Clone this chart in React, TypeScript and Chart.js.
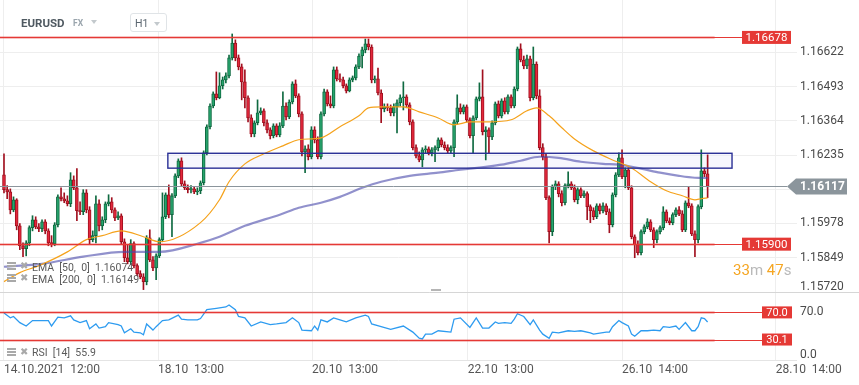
import React, { useEffect, useRef } from 'react';
import { Chart, registerables } from 'chart.js';

Chart.register(...registerables);

// ---------- data (prices in points of 0.00001) ----------
const PT = 0.00001;

const openPts = [
  116161,116105,116097,116029,116067,115969,115894,115883,115905,115962,
  115992,115965,115958,115984,115950,115905,115902,115973,116078,116071,
  116063,116052,116142,116112,116026,116022,116093,116029,115917,115932,
  116052,115969,115992,116052,116059,116029,115999,116007,115909,115849,
  115834,115902,115819,115789,115777,115759,115924,115841,115811,115856,
  115917,116003,116086,116011,116082,116157,116214,116127,116112,116105,
  116108,116097,116101,116131,116244,116342,116420,116466,116451,116496,
  116518,116533,116601,116657,116601,116567,116511,116451,116375,116315,
  116357,116394,116402,116357,116330,116308,116345,116311,116345,116420,
  116379,116435,116503,116458,116390,116247,116259,116229,116330,116293,
  116229,116390,116473,116428,116420,116556,116522,116518,116496,116477,
  116518,116526,116567,116608,116631,116654,116642,116518,116522,116469,
  116409,116417,116413,116394,116417,116432,116451,116454,116424,116360,
  116263,116232,116217,116255,116259,116244,116255,116263,116293,116274,
  116263,116251,116263,116360,116413,116398,116417,116368,116308,116375,
  116447,116454,116323,116330,116304,116357,116428,116383,116439,116398,
  116454,116420,116484,116635,116593,116571,116597,116451,116578,116458,
  116263,116229,116075,115947,116116,116127,116090,116056,116120,116127,
  116112,116067,116105,116082,116090,116041,116026,116003,116044,116026,
  116044,116022,115973,116086,116161,116225,116154,116180,116112,115928,
  115898,115868,115947,115965,115984,115954,115917,115947,115962,116022,
  115988,115981,116011,116029,116014,115954,116056,116044,115939,115917,
  116041,116176,116165
];
const highPts = [
  116240,116120,116108,116078,116071,115977,115905,115913,115969,116007,
  116003,115977,115992,115992,115958,115932,115981,116086,116112,116093,
  116082,116169,116157,116184,116059,116105,116105,116041,115950,116082,
  116067,116003,116059,116086,116075,116037,116022,116014,115920,115898,
  115917,115909,115826,115800,115789,115932,115954,115853,115864,115924,
  116093,116093,116123,116090,116165,116221,116225,116138,116123,116120,
  116116,116112,116138,116251,116349,116428,116473,116548,116545,116529,
  116545,116612,116691,116669,116612,116578,116556,116458,116387,116364,
  116443,116413,116409,116368,116338,116353,116353,116357,116473,116432,
  116443,116511,116518,116466,116398,116270,116274,116342,116342,116304,
  116398,116484,116481,116458,116567,116567,116541,116529,116503,116526,
  116533,116575,116616,116642,116672,116672,116650,116533,116563,116481,
  116428,116428,116424,116428,116443,116462,116511,116462,116432,116368,
  116274,116247,116263,116270,116266,116263,116270,116300,116300,116285,
  116274,116270,116368,116462,116428,116424,116424,116375,116383,116454,
  116507,116556,116342,116338,116364,116435,116439,116447,116451,116462,
  116462,116492,116642,116654,116608,116612,116608,116642,116586,116481,
  116278,116240,116082,116123,116138,116135,116101,116127,116172,116135,
  116123,116112,116112,116101,116097,116048,116037,116052,116052,116056,
  116052,116033,116093,116169,116244,116255,116187,116187,116120,115935,
  115913,115954,115973,115996,115992,115962,115954,115969,116041,116029,
  115999,116018,116037,116041,116026,116063,116116,116052,115950,116048,
  116255,116187,116236
];
const lowPts = [
  116093,116071,116014,116022,115954,115879,115853,115856,115894,115950,
  115958,115947,115947,115939,115894,115890,115894,115965,116063,116056,
  116044,116041,116105,115988,116011,116011,116018,115898,115909,115905,
  115950,115954,115981,116044,116018,115988,115992,115898,115834,115826,
  115823,115811,115781,115770,115729,115747,115834,115800,115766,115849,
  115909,115996,115999,115928,116075,116150,116120,116105,116093,116093,
  116090,116086,116090,116123,116236,116334,116413,116443,116447,116484,
  116507,116526,116593,116590,116556,116443,116413,116360,116304,116304,
  116349,116387,116345,116319,116296,116300,116304,116304,116338,116368,
  116372,116428,116451,116379,116232,116169,116217,116221,116281,116221,
  116221,116383,116420,116413,116413,116514,116511,116488,116469,116473,
  116511,116518,116560,116563,116620,116631,116507,116507,116462,116357,
  116398,116402,116383,116383,116319,116420,116405,116413,116349,116255,
  116225,116210,116191,116244,116236,116232,116210,116251,116266,116255,
  116244,116244,116229,116353,116390,116390,116360,116300,116244,116368,
  116439,116311,116217,116244,116293,116349,116375,116375,116390,116390,
  116413,116413,116477,116586,116560,116560,116439,116443,116447,116255,
  116217,116067,115905,115932,116105,116078,116044,116048,116112,116105,
  116059,116052,116075,116075,115992,115981,115992,115996,116014,116018,
  116011,115943,115965,116078,116154,116146,116112,116105,115920,115849,
  115860,115860,115939,115958,115947,115887,115905,115939,115954,115981,
  115973,115973,116003,116007,115947,115947,116037,115932,115853,115905,
  116033,116154,116075
];
const closePts = [
  116105,116097,116029,116067,115969,115894,115883,115905,115962,115992,
  115965,115958,115984,115950,115905,115902,115973,116078,116071,116063,
  116052,116142,116112,116026,116022,116093,116029,115917,115932,116052,
  115969,115992,116052,116059,116029,115999,116007,115909,115849,115834,
  115902,115819,115789,115777,115759,115924,115841,115811,115856,115917,
  116003,116086,116011,116082,116157,116214,116127,116112,116105,116108,
  116097,116101,116131,116244,116342,116420,116466,116451,116496,116518,
  116533,116601,116657,116601,116567,116511,116451,116375,116315,116357,
  116394,116402,116357,116330,116308,116345,116311,116345,116420,116379,
  116435,116503,116458,116390,116247,116259,116229,116330,116293,116229,
  116390,116473,116428,116420,116556,116522,116518,116496,116477,116518,
  116526,116567,116608,116631,116654,116642,116518,116522,116469,116409,
  116417,116413,116394,116417,116432,116451,116454,116424,116360,116263,
  116232,116217,116255,116259,116244,116255,116263,116293,116274,116263,
  116251,116263,116360,116413,116398,116417,116368,116308,116375,116447,
  116454,116323,116330,116304,116357,116428,116383,116439,116398,116454,
  116420,116484,116635,116593,116571,116597,116451,116578,116458,116263,
  116229,116075,115947,116116,116127,116090,116056,116120,116127,116112,
  116067,116105,116082,116090,116041,116026,116003,116044,116026,116044,
  116022,115973,116086,116161,116225,116154,116180,116112,115928,115898,
  115868,115947,115965,115984,115954,115917,115947,115962,116022,115988,
  115981,116011,116029,116014,115954,116056,116044,115939,115917,116041,
  116176,116165,116117
];

// EMA values at selected candles
const ema50Idx = [0,5,11,20,26,31,37,44,49,62,68,71,76,82,88,93,100,106,112,115,119,126,131,137,142,147,153,160,165,168,172,176,180,186,192,198,204,209,214,218,220,222];
const ema50Pts = [115759,115793,115819,115871,115917,115932,115950,115928,115909,115981,116067,116135,116202,116240,116270,116293,116300,116342,116383,116413,116417,116417,116398,116375,116349,116360,116360,116368,116402,116413,116383,116338,116296,116251,116217,116187,116135,116101,116082,116067,116071,116074];
const ema200Idx = [0,12,25,38,49,62,68,76,87,93,100,106,113,119,128,137,144,152,157,163,169,175,182,189,194,201,207,213,218,222];
const ema200Pts = [115815,115826,115853,115871,115871,115905,115928,115969,116011,116037,116056,116078,116112,116135,116157,116169,116180,116191,116199,116214,116229,116225,116210,116202,116199,116184,116169,116157,116150,116149];

// RSI(14)
const rsiIdx = [0,2,3,5,7,9,11,14,15,17,19,21,22,24,26,27,29,30,32,33,36,37,38,40,41,43,44,45,47,48,50,52,55,56,58,61,62,64,67,70,71,73,74,76,78,81,84,86,89,91,93,94,97,98,99,100,102,104,106,108,111,114,115,116,119,122,126,129,131,132,133,135,137,141,142,144,147,149,151,153,155,156,158,160,161,162,164,166,167,169,170,172,173,175,178,180,182,185,186,190,191,192,194,195,197,198,199,201,203,205,207,208,210,212,213,215,217,218,219,220,221,222];
const rsiVal = [69,62,64,55,50,58,58,58,50,63,62,65,59,55,58,46,53,47,49,55,52,50,40,46,41,40,37,53,44,49,58,59,66,60,59,59,61,74,76,78,81,74,64,62,50,56,52,53,55,62,55,44,43,50,44,59,56,62,59,56,62,66,64,53,49,45,50,41,32,31,38,38,43,41,60,62,48,62,47,47,56,54,55,54,60,68,64,52,59,44,38,32,41,40,43,42,43,40,38,41,41,49,58,55,50,38,35,43,43,44,43,49,48,50,45,55,43,43,49,62,61,55.9];

// axis ticks / labels
const priceTicks = [1.1572, 1.15849, 1.15978, 1.16106, 1.16235, 1.16364, 1.16493, 1.16622];
const rsiTicks = [0, 70, 100];
const xGridIdx = [0, 48.6, 97.2, 146.3, 195, 243.5];
const xTickLabels = ['14.10.2021  12:00', '18.10  13:00', '20.10  13:00', '22.10  13:00', '26.10  14:00', '28.10  14:00'];

// levels
const resistance = 1.16678;
const support = 1.159;
const lastPrice = 1.16117;
const zoneStart = 51.7;
const zoneEnd = 229.7;
const zoneTop = 1.16242;
const zoneBottom = 1.16186;
const rsiUpper = 70;
const rsiLower = 30.1;

const GREEN = '#27a46d';
const GREEN_EDGE = '#0f6a41';
const RED = '#e3283c';
const RED_EDGE = '#a1101f';

const overlayPlugin = {
  id: 'overlay',
  beforeDatasetsDraw(chart: any) {
    const { ctx } = chart;
    const x = chart.scales.x, y = chart.scales.y;
    const x1 = x.getPixelForValue(zoneStart), x2 = x.getPixelForValue(zoneEnd);
    const y1 = y.getPixelForValue(zoneTop), y2 = y.getPixelForValue(zoneBottom);
    ctx.save();
    ctx.fillStyle = 'rgba(228,232,250,0.35)';
    ctx.fillRect(x1, y1, x2 - x1, y2 - y1);
    ctx.restore();
  },
  afterDatasetsDraw(chart: any) {
    const { ctx, chartArea } = chart;
    const x = chart.scales.x, y = chart.scales.y, r = chart.scales.rsi;
    const dataEnd = x.getPixelForValue(closePts.length - 1) + 7;
    const hline = (py: number, x0: number, x1: number, color: string, w: number) => {
      ctx.beginPath();
      ctx.strokeStyle = color;
      ctx.lineWidth = w;
      ctx.moveTo(x0, py);
      ctx.lineTo(x1, py);
      ctx.stroke();
    };
    ctx.save();
    const zx1 = x.getPixelForValue(zoneStart), zx2 = x.getPixelForValue(zoneEnd);
    const zy1 = y.getPixelForValue(zoneTop), zy2 = y.getPixelForValue(zoneBottom);
    ctx.strokeStyle = '#2a3096';
    ctx.lineWidth = 1.4;
    ctx.strokeRect(zx1, zy1, zx2 - zx1, zy2 - zy1);
    for (const v of [resistance, support]) {
      const py = Math.round(y.getPixelForValue(v)) + 0.5;
      hline(py, chartArea.left, dataEnd, 'rgba(229,57,53,0.3)', 3);
      hline(py, chartArea.left, chartArea.right - 55, '#e53935', 1);
    }
    for (const v of [rsiUpper, rsiLower]) {
      const py = Math.round(r.getPixelForValue(v)) + 0.5;
      hline(py, chartArea.left, dataEnd, 'rgba(229,57,53,0.3)', 3);
      hline(py, chartArea.left, chartArea.right - 35, '#e53935', 1);
    }
    const lp = Math.round(y.getPixelForValue(lastPrice)) + 0.5;
    hline(lp, chartArea.left, chartArea.right - 10, '#8b959c', 1);
    ctx.restore();
  },
  afterDraw(chart: any) {
    const { ctx, chartArea } = chart;
    const y = chart.scales.y, r = chart.scales.rsi;
    ctx.save();
    const sep = Math.round(r.getPixelForValue(100)) + 0.5;
    ctx.beginPath();
    ctx.strokeStyle = '#d6d6d6';
    ctx.lineWidth = 1;
    ctx.moveTo(0, sep);
    ctx.lineTo(chart.width, sep);
    ctx.stroke();
    ctx.textBaseline = 'middle';
    ctx.textAlign = 'center';
    for (const v of [resistance, support]) {
      const py = y.getPixelForValue(v);
      const bx = chartArea.right - 55, bw = 49, bh = 13;
      ctx.fillStyle = '#e53935';
      ctx.fillRect(bx, py - bh / 2, bw, bh);
      ctx.fillStyle = '#ffffff';
      ctx.font = '11.5px Roboto';
      ctx.fillText(v.toFixed(5), bx + bw / 2, py + 0.5);
    }
    for (const v of [rsiUpper, rsiLower]) {
      const py = r.getPixelForValue(v);
      const bx = chartArea.right - 35, bw = 30, bh = 12;
      ctx.fillStyle = '#e53935';
      ctx.fillRect(bx, py - bh / 2, bw, bh);
      ctx.fillStyle = '#ffffff';
      ctx.font = '11px Roboto';
      ctx.fillText(v.toFixed(1), bx + bw / 2, py + 0.5);
    }
    const py = y.getPixelForValue(lastPrice);
    const tip = chartArea.right - 10;
    ctx.fillStyle = '#8b959c';
    ctx.beginPath();
    ctx.moveTo(tip, py);
    ctx.lineTo(tip + 9, py - 8);
    ctx.lineTo(chart.width - 12, py - 8);
    ctx.lineTo(chart.width - 12, py + 8);
    ctx.lineTo(tip + 9, py + 8);
    ctx.closePath();
    ctx.fill();
    ctx.fillStyle = '#ffffff';
    ctx.font = 'bold 12px Roboto';
    ctx.textAlign = 'left';
    ctx.fillText(lastPrice.toFixed(5), chartArea.right + 3, py + 0.5);
    ctx.restore();
  },
};

const legendIcon = (top: number) => (
  <>
    <div style={{ position: 'absolute', left: 7, top: top, width: 9 }}>
      <div style={{ height: 2, background: '#a9a9a9', marginBottom: 1 }} />
      <div style={{ height: 2, background: '#a9a9a9', marginBottom: 1 }} />
      <div style={{ height: 2, background: '#a9a9a9' }} />
    </div>
    <div style={{ position: 'absolute', left: 20, top: top - 2, fontSize: 10, lineHeight: '11px', color: '#a9a9a9', fontFamily: 'DejaVu Sans' }}>✖</div>
  </>
);

export default function App() {
  const ref = useRef<HTMLCanvasElement>(null);

  useEffect(() => {
    const canvas = ref.current;
    if (!canvas) return;
    Chart.defaults.font.family = 'Roboto';
    const n = closePts.length;
    const idx = Array.from({ length: n }, (_, i) => i);
    const up = idx.map((i) => closePts[i] >= openPts[i]);

    const chart = new Chart(canvas, {
      type: 'bar',
      data: {
        datasets: [
          {
            type: 'line',
            data: ema50Idx.map((v, k) => ({ x: v, y: ema50Pts[k] * PT })),
            borderColor: '#f5a21b',
            borderWidth: 1.2,
            pointRadius: 0,
            cubicInterpolationMode: 'monotone',
            yAxisID: 'y',
            order: 0,
          },
          {
            type: 'line',
            data: ema200Idx.map((v, k) => ({ x: v, y: ema200Pts[k] * PT })),
            borderColor: 'rgba(72,72,170,0.6)',
            borderWidth: 2.2,
            pointRadius: 0,
            cubicInterpolationMode: 'monotone',
            yAxisID: 'y',
            order: 1,
          },
          {
            type: 'line',
            data: rsiIdx.map((v, k) => ({ x: v, y: rsiVal[k] })),
            borderColor: '#2d9bf0',
            borderWidth: 1.3,
            pointRadius: 0,
            tension: 0,
            yAxisID: 'rsi',
            order: 0,
          },
          {
            type: 'bar',
            data: idx.map((i) => ({ x: i, y: [openPts[i] * PT, closePts[i] * PT] })),
            backgroundColor: idx.map((i) => (up[i] ? GREEN : RED)),
            borderColor: idx.map((i) => (up[i] ? GREEN_EDGE : RED_EDGE)),
            borderWidth: 1,
            borderSkipped: false,
            barThickness: 3,
            minBarLength: 1,
            grouped: false,
            yAxisID: 'y',
            order: 2,
          },
          {
            type: 'bar',
            data: idx.map((i) => ({ x: i, y: [lowPts[i] * PT, highPts[i] * PT] })),
            backgroundColor: idx.map((i) => (up[i] ? GREEN_EDGE : RED_EDGE)),
            barThickness: 1,
            grouped: false,
            yAxisID: 'y',
            order: 3,
          },
        ],
      },
      options: {
        animation: false,
        responsive: false,
        events: [],
        layout: { padding: 0 },
        plugins: { legend: { display: false }, tooltip: { enabled: false } },
        scales: {
          x: {
            type: 'linear',
            min: -1.26,
            max: 250.2,
            offset: false,
            grid: { offset: false, color: '#eeeeee', drawTicks: false },
            border: { display: false },
            ticks: {
              autoSkip: false,
              maxRotation: 0,
              align: 'start',
              padding: 3,
              color: '#555555',
              font: { family: 'Roboto', size: 12 },
              callback: (_v: any, i: number) => xTickLabels[i] ?? '',
            },
            afterBuildTicks: (s: any) => {
              s.ticks = xGridIdx.map((v) => ({ value: v }));
            },
            afterFit: (s: any) => {
              s.height = 25;
              s.paddingLeft = 0;
              s.paddingRight = 0;
            },
          },
          y: {
            type: 'linear',
            position: 'right',
            stack: 'pane',
            stackWeight: 292,
            min: 1.1572,
            max: 1.168188,
            grid: { color: '#eeeeee', drawTicks: false },
            border: { display: false },
            ticks: {
              autoSkip: false,
              padding: 3,
              color: '#4a4a4a',
              font: { family: 'Roboto', size: 12, lineHeight: 0.85 },
              callback: (v: any, i: number) => (i === 0 ? [Number(v).toFixed(5), ''] : Number(v).toFixed(5)),
            },
            afterBuildTicks: (s: any) => {
              s.ticks = priceTicks.map((v) => ({ value: v }));
            },
            afterFit: (s: any) => {
              s.width = 62;
              s.paddingTop = 0;
              s.paddingBottom = 0;
            },
          },
          rsi: {
            type: 'linear',
            axis: 'y',
            position: 'right',
            stack: 'pane',
            stackWeight: 68,
            min: 0,
            max: 100,
            grid: {
              drawTicks: false,
              color: (c: any) => (c.tick && c.tick.value === 0 ? '#e4e4e4' : 'rgba(0,0,0,0)'),
            },
            border: { display: false },
            ticks: {
              autoSkip: false,
              padding: 3,
              color: '#4a4a4a',
              font: { family: 'Roboto', size: 12, lineHeight: 0.85 },
              callback: (v: any) => (v === 0 ? ['0.0', ''] : v === 70 ? '70.0' : ''),
            },
            afterBuildTicks: (s: any) => {
              s.ticks = rsiTicks.map((v) => ({ value: v }));
            },
            afterFit: (s: any) => {
              s.width = 62;
              s.paddingTop = 0;
              s.paddingBottom = 0;
            },
          },
        },
      } as any,
      plugins: [overlayPlugin],
    } as any);

    return () => chart.destroy();
  }, []);

  const legendText: React.CSSProperties = {
    position: 'absolute',
    left: 32,
    fontSize: 10.5,
    lineHeight: '11px',
    color: '#5a5a5a',
    whiteSpace: 'pre',
    fontFamily: 'Roboto',
  };

  return (
    <div style={{ position: 'absolute', left: 0, top: 0, width: 859, height: 385, background: '#ffffff', overflow: 'hidden', fontFamily: 'Roboto' }}>
      <canvas ref={ref} width={859} height={385} style={{ display: 'block', width: 859, height: 385 }} />
      <div style={{ position: 'absolute', left: 21, top: 17, fontSize: 11.5, lineHeight: '12px', fontWeight: 700, color: '#4f5961' }}>EURUSD</div>
      <div style={{ position: 'absolute', left: 73, top: 19, fontSize: 8.5, lineHeight: '9px', fontWeight: 700, color: '#9aa5ad' }}>FX</div>
      <div style={{ position: 'absolute', left: 91, top: 20, width: 0, height: 0, borderLeft: '3.5px solid transparent', borderRight: '3.5px solid transparent', borderTop: '4px solid #c3c9cd' }} />
      <div style={{ position: 'absolute', left: 130, top: 13, width: 35, height: 17, border: '1px solid #e0e4e7', borderRadius: 3, background: '#ffffff' }}>
        <div style={{ position: 'absolute', left: 4, top: 3.5, fontSize: 10.5, lineHeight: '11px', color: '#5b6670' }}>H1</div>
        <div style={{ position: 'absolute', left: 23, top: 7.5, width: 0, height: 0, borderLeft: '3.5px solid transparent', borderRight: '3.5px solid transparent', borderTop: '4px solid #c3c9cd' }} />
      </div>
      {legendIcon(262)}
      <div style={{ ...legendText, top: 261.5 }}>{'EMA  [50,  0]  1.16074'}</div>
      {legendIcon(274)}
      <div style={{ ...legendText, top: 273.5 }}>{'EMA  [200,  0]  1.16149'}</div>
      {legendIcon(348)}
      <div style={{ ...legendText, top: 347 }}>{'RSI  [14]  55.9'}</div>
      <div style={{ position: 'absolute', left: 431, top: 289, width: 10, height: 2, background: '#b5b5b5' }} />
      <div style={{ position: 'absolute', left: 733, top: 263, fontSize: 15, lineHeight: '15px', whiteSpace: 'pre' }}>
        <span style={{ color: '#f5a623' }}>33</span>
        <span style={{ color: '#b9b9b9' }}>m </span>
        <span style={{ color: '#f5a623' }}>47</span>
        <span style={{ color: '#b9b9b9' }}>s</span>
      </div>
    </div>
  );
}
